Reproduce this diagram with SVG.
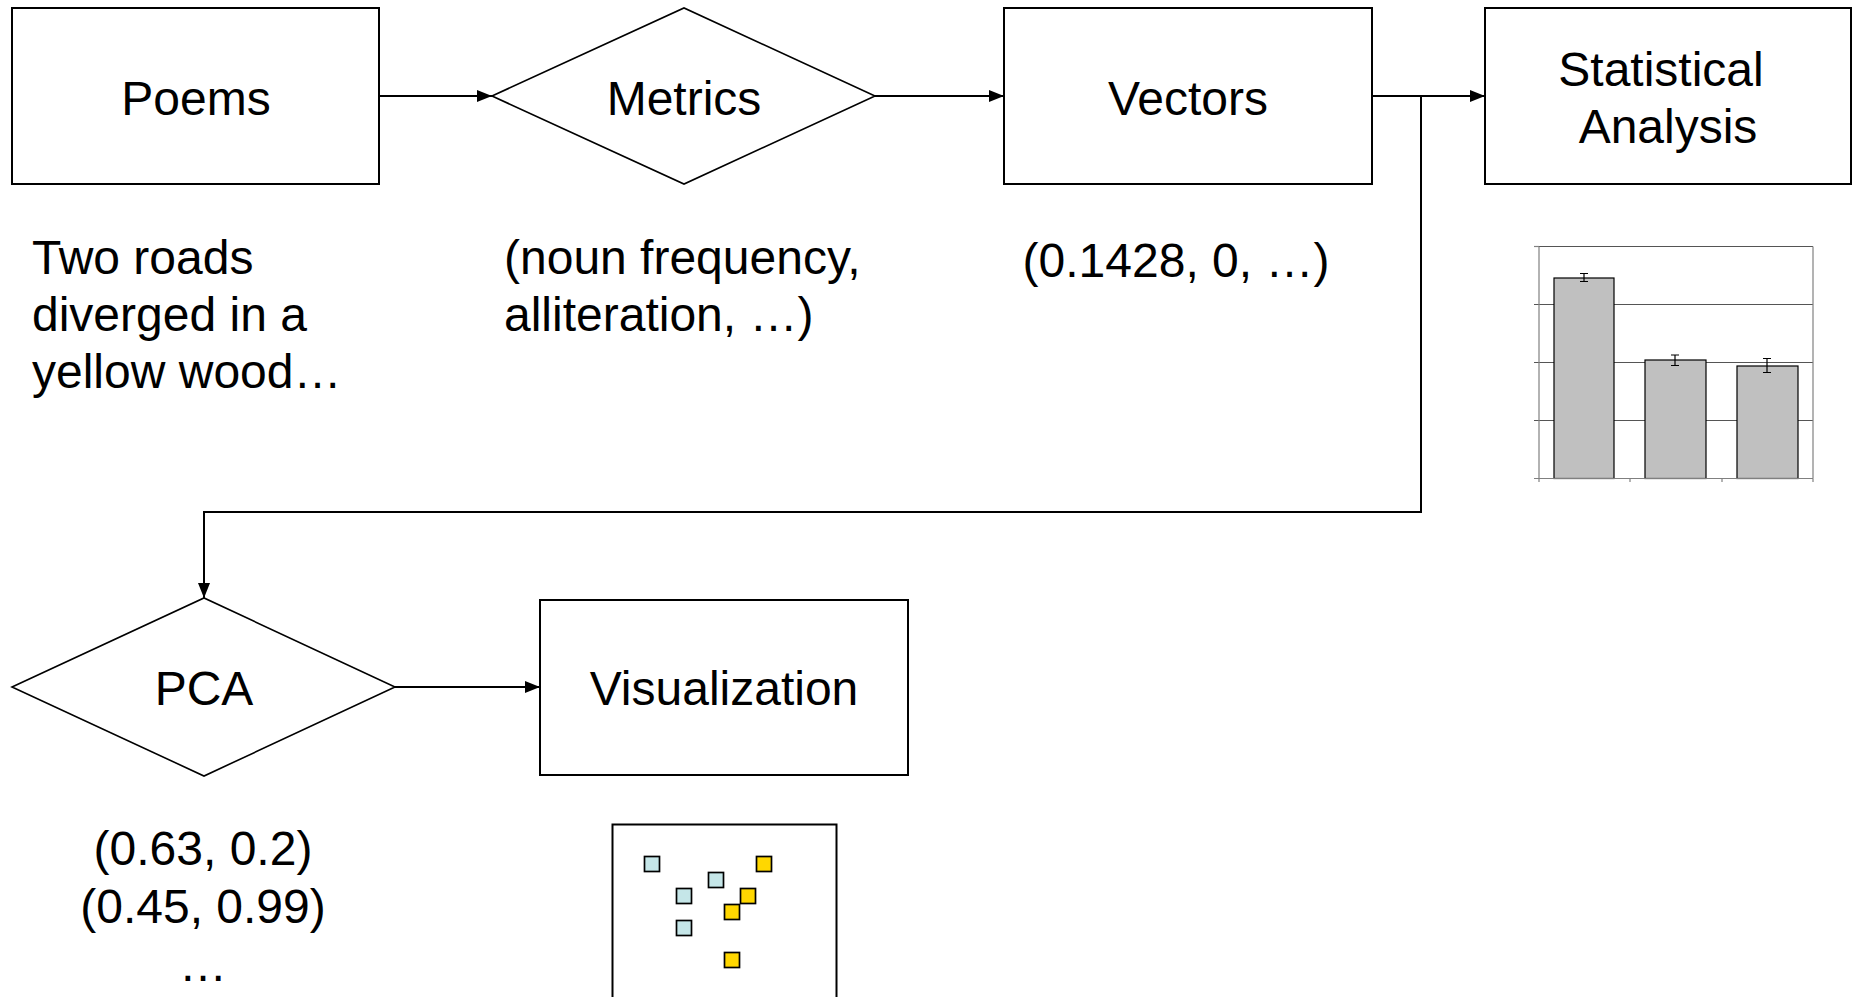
<svg xmlns="http://www.w3.org/2000/svg" width="1858" height="997" viewBox="0 0 1858 997">
<style>
  .box { fill: #ffffff; stroke: #000000; stroke-width: 2; }
  .dia { fill: #ffffff; stroke: #000000; stroke-width: 1.6; }
  .lbl { font-family: "Liberation Sans", Arial, sans-serif; font-size: 48px; fill: #000000; }
  .mid { text-anchor: middle; }
  .conn { fill: none; stroke: #000000; stroke-width: 2; }
  .grid { stroke: #555555; stroke-width: 1.2; fill: none; }
  .frame { stroke: #808080; stroke-width: 1.2; fill: none; }
  .bar { fill: #c0c0c0; stroke: #000000; stroke-width: 1.2; }
  .err { stroke: #000000; stroke-width: 1.2; fill: none; }
  .pb { fill: #c5e6e8; stroke: #000000; stroke-width: 1.7; }
  .py { fill: #ffd700; stroke: #000000; stroke-width: 1.7; }
</style>
<defs>
  <marker id="arrow" markerUnits="userSpaceOnUse" markerWidth="15" markerHeight="12" refX="15" refY="6" orient="auto">
    <path d="M0,0 L15,6 L0,12 z" fill="#000000"/>
  </marker>
</defs>
<rect x="0" y="0" width="1858" height="997" fill="#ffffff"/>

<g id="connectors">
  <line class="conn" x1="379" y1="96" x2="492" y2="96" marker-end="url(#arrow)"/>
  <line class="conn" x1="875" y1="96" x2="1004" y2="96" marker-end="url(#arrow)"/>
  <line class="conn" x1="1372" y1="96" x2="1485" y2="96" marker-end="url(#arrow)"/>
  <polyline class="conn" points="1421,96 1421,512 204,512 204,598" marker-end="url(#arrow)"/>
  <line class="conn" x1="395" y1="687" x2="540" y2="687" marker-end="url(#arrow)"/>
</g>

<g id="poems">
  <rect class="box" x="12" y="8" width="367" height="176"/>
  <text class="lbl mid" x="196" y="115">Poems</text>
</g>
<g id="poems-example">
  <text class="lbl" x="32" y="274">Two roads</text>
  <text class="lbl" x="32" y="331">diverged in a</text>
  <text class="lbl" x="32" y="388">yellow wood…</text>
</g>

<g id="metrics">
  <polygon class="dia" points="492,96 684,8 875,96 684,184"/>
  <text class="lbl mid" x="684" y="115">Metrics</text>
</g>
<g id="metrics-example">
  <text class="lbl" x="504" y="274">(noun frequency,</text>
  <text class="lbl" x="504" y="331">alliteration, …)</text>
</g>

<g id="vectors">
  <rect class="box" x="1004" y="8" width="368" height="176"/>
  <text class="lbl mid" x="1188" y="115">Vectors</text>
</g>
<g id="vectors-example">
  <text class="lbl mid" x="1176" y="277">(0.1428, 0, …)</text>
</g>

<g id="statistical-analysis">
  <rect class="box" x="1485" y="8" width="366" height="176"/>
  <text class="lbl mid" x="1661" y="86">Statistical</text>
  <text class="lbl mid" x="1668" y="143">Analysis</text>
</g>
<g id="bar-chart">
  <line class="grid" x1="1539" y1="246.5" x2="1813" y2="246.5"/>
  <line class="grid" x1="1534" y1="304.5" x2="1813" y2="304.5"/>
  <line class="grid" x1="1534" y1="362.5" x2="1813" y2="362.5"/>
  <line class="grid" x1="1534" y1="420.5" x2="1813" y2="420.5"/>
  <line class="frame" x1="1813" y1="246.5" x2="1813" y2="478.5"/>
  <rect class="bar" x="1554" y="278" width="60" height="200.5"/>
  <rect class="bar" x="1645" y="360" width="61" height="118.5"/>
  <rect class="bar" x="1737" y="366" width="61" height="112.5"/>
  <path class="err" d="M1584,273.5 V281.5 M1580,273.5 H1588 M1580,281.5 H1588"/>
  <path class="err" d="M1675,355 V365.5 M1671,355 H1679 M1671,365.5 H1679"/>
  <path class="err" d="M1767,358.5 V372.5 M1763,358.5 H1771 M1763,372.5 H1771"/>
  <line class="frame" x1="1539" y1="246.5" x2="1539" y2="482"/>
  <line class="frame" x1="1534" y1="478.5" x2="1813" y2="478.5"/>
  <line class="frame" x1="1534" y1="246.5" x2="1539" y2="246.5"/>
  <line class="frame" x1="1630" y1="478.5" x2="1630" y2="482"/>
  <line class="frame" x1="1722" y1="478.5" x2="1722" y2="482"/>
  <line class="frame" x1="1813" y1="478.5" x2="1813" y2="482"/>
</g>

<g id="pca">
  <polygon class="dia" points="12,687 204,598 395,687 204,776"/>
  <text class="lbl mid" x="204" y="705">PCA</text>
</g>
<g id="pca-example">
  <text class="lbl mid" x="203" y="865">(0.63, 0.2)</text>
  <text class="lbl mid" x="203" y="923">(0.45, 0.99)</text>
  <text class="lbl mid" x="203" y="981">…</text>
</g>

<g id="visualization">
  <rect class="box" x="540" y="600" width="368" height="175"/>
  <text class="lbl mid" x="724" y="705">Visualization</text>
</g>
<g id="scatter-plot">
  <rect x="612.5" y="824.5" width="224" height="200" fill="#ffffff" stroke="#000000" stroke-width="2"/>
  <rect class="pb" x="644.5" y="856.5" width="15" height="15"/>
  <rect class="pb" x="708.5" y="872.5" width="15" height="15"/>
  <rect class="pb" x="676.5" y="888.5" width="15" height="15"/>
  <rect class="pb" x="676.5" y="920.5" width="15" height="15"/>
  <rect class="py" x="756.5" y="856.5" width="15" height="15"/>
  <rect class="py" x="740.5" y="888.5" width="15" height="15"/>
  <rect class="py" x="724.5" y="904.5" width="15" height="15"/>
  <rect class="py" x="724.5" y="952.5" width="15" height="15"/>
</g>
</svg>
